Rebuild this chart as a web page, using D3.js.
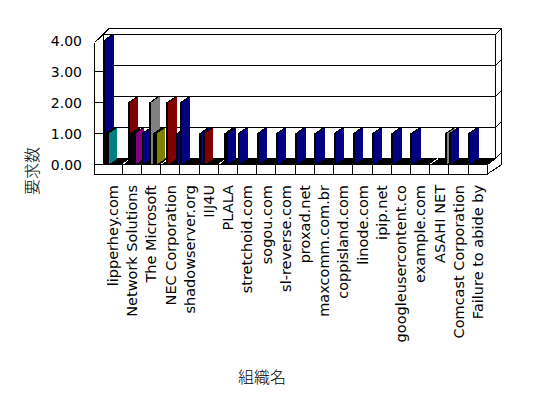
<!DOCTYPE html>
<html><head><meta charset="utf-8">
<script src="https://cdn.jsdelivr.net/npm/d3@7"></script>
<style>body{margin:0;background:#fff}svg{display:block}</style>
</head><body><svg id="c" width="548" height="398"></svg>
<script>
// ---- data ----
const categories = ["lipperhey.com","Network Solutions","The Microsoft","NEC Corporation","shadowserver.org","IIJ4U","PLALA","stretchoid.com","sogou.com","sl-reverse.com","proxad.net","maxcomm.com.br","coppisland.com","linode.com","ipip.net","googleusercontent.co","example.com","ASAHI NET","Comcast Corporation","Failure to abide by"];
const yTicks = [0,1,2,3,4];
const groups = ["S1","S2","S3","S4","S5","S6","S7","S8","S9"];
// values per category (20) for each group / colour combination
const s1Navy   = [4,0,1,0,2,1,0,1,1,1,1,1,1,1,1,1,1,0,1,1];
const s2Black  = [1,0,0,0,0,0,0,0,0,0,0,0,0,0,0,0,0,0,0,0];
const s3Teal   = [1,0,0,0,0,0,0,0,0,0,0,0,0,0,0,0,0,0,0,0];
const s3Maroon = [0,0,0,0,0,1,0,0,0,0,0,0,0,0,0,0,0,0,0,0];
const s4Maroon = [0,2,0,2,0,0,1,0,0,0,0,0,0,0,0,0,0,0,0,0];
const s5Black  = [0,1,0,0,0,0,0,0,0,0,0,0,0,0,0,0,0,0,0,0];
const s5Gray   = [0,0,2,0,0,0,0,0,0,0,0,0,0,0,0,0,0,0,0,0];
const s5Navy   = [0,0,0,0,0,0,1,0,0,0,0,0,0,0,0,0,0,0,0,0];
const s7Purple = [0,1,0,0,0,0,0,0,0,0,0,0,0,0,0,0,0,0,0,0];
const s7Black  = [0,0,1,0,0,0,0,0,0,0,0,0,0,0,0,0,0,0,0,0];
const s8Olive  = [0,0,1,0,0,0,0,0,0,0,0,0,0,0,0,0,0,0,0,0];
const s9Navy   = [0,0,0,1,0,0,0,0,0,0,0,0,0,0,0,0,0,0,0,0];
const s9Gray   = [0,0,0,0,0,0,0,0,0,0,0,0,0,0,0,0,0,1,0,0];

const seriesList = [
  {group:"S1", values:s1Navy,   color:"#000080"},
  {group:"S2", values:s2Black,  color:"#000000"},
  {group:"S3", values:s3Teal,   color:"#008080"},
  {group:"S3", values:s3Maroon, color:"#800000"},
  {group:"S4", values:s4Maroon, color:"#800000"},
  {group:"S5", values:s5Black,  color:"#000000"},
  {group:"S5", values:s5Gray,   color:"#808080"},
  {group:"S5", values:s5Navy,   color:"#000080"},
  {group:"S7", values:s7Purple, color:"#800080"},
  {group:"S7", values:s7Black,  color:"#000000"},
  {group:"S8", values:s8Olive,  color:"#808000"},
  {group:"S9", values:s9Navy,   color:"#000080"},
  {group:"S9", values:s9Gray,   color:"#808080"}
];

// ---- layout ----
const DX = 8.5, DY = -6, T = 6;
const x = d3.scaleBand().domain(categories).range([103.1, 487.3]).padding(0);
const y = d3.scaleLinear().domain([0,4]).range([164.5, 40.5]);
const xs = d3.scaleBand().domain(groups).range([0, x.bandwidth()*0.9]);
const xL = 94.7, xR = x.range()[1], bL = xL + DX, bR = xR + DX;
const y0 = y(0), slabB = 174;
const latin = "DejaVu Sans", cjk = "Noto Sans CJK JP";

const svg = d3.select("#c").attr("shape-rendering","crispEdges");
const g = svg.append("g");
function line(x1,y1,x2,y2,c){g.append("line").attr("x1",x1).attr("y1",y1).attr("x2",x2).attr("y2",y2).attr("stroke",c||"#000").attr("stroke-width",1);}
const pts = a => a.map(p=>p.join(",")).join(" ");

// back wall
g.append("rect").attr("x",bL).attr("y",y(4)+DY).attr("width",bR-bL).attr("height",y(0)-y(4)).attr("fill","#fff").attr("stroke","#000");
yTicks.forEach(v=>line(bL, y(v)+DY, bR, y(v)+DY));
yTicks.forEach(v=>line(bR, y(v)+DY, bR+T, y(v)+DY-T));
line(bL+T, y(4)+DY-T, bR+T, y(4)+DY-T);
line(bR+T, y(4)+DY-T, bR+T, y0+DY+T);
line(bR+T, y0+DY+T, xR, slabB);

// left wall
line(xL, y(4)+2, xL, slabB);
line(bL, y(4)+DY, bL, y0);
line(xL, y(4)+2, bL+T, y(4)+DY-T);
yTicks.filter(v=>v>0&&v<4).forEach(v=>line(xL, y(v), bL, y(v)));

// floor
g.append("polygon").attr("points",pts([[x.range()[0],y0],[xR,y0],[bR,y0+DY],[x.range()[0],y0+DY]])).attr("fill","#000");
categories.slice(1).forEach(c=>line(x(c), y0, x(c)+DX, y0+DY, "#fff"));

// floor front slab
g.append("rect").attr("x",xL).attr("y",y0).attr("width",xR-xL).attr("height",slabB-y0).attr("fill","#fff").attr("stroke","#000");
categories.slice(1).forEach(c=>line(x(c), y0, x(c), slabB));
line(xR, y0, bR, y0+DY);

// bars
const bars = [];
seriesList.forEach(s=>s.values.forEach((v,i)=>{ if(v>0) bars.push({ci:i, cat:categories[i], group:s.group, v, color:s.color}); }));
bars.sort((a,b)=> a.ci-b.ci || groups.indexOf(a.group)-groups.indexOf(b.group));
const bg = svg.append("g");
bars.forEach(b=>{
  const x0 = x(b.cat)+xs(b.group), x1 = x0+xs.bandwidth(), yt = y(b.v);
  bg.append("polygon").attr("points",pts([[x0,yt],[x1,yt],[x1+DX,yt+DY],[x0+DX,yt+DY]])).attr("fill","#000");
  bg.append("polygon").attr("points",pts([[x1,yt],[x1+DX,yt+DY],[x1+DX,y0+DY],[x1,y0]])).attr("fill",b.color);
  bg.append("rect").attr("x",x0).attr("y",yt).attr("width",x1-x0).attr("height",y0-yt).attr("fill","#000");
});

// y tick labels
const fmt = d3.format(".2f");
svg.append("g").selectAll("text").data(yTicks).join("text")
  .attr("x",82).attr("y",d=>y(d)).attr("dy","0.36em").attr("text-anchor","end")
  .attr("font-family",latin).attr("font-size",14).attr("fill","#000").text(fmt);

// category labels
svg.append("g").selectAll("text").data(categories).join("text")
  .attr("transform",d=>`translate(${x(d)+x.bandwidth()/2},185) rotate(-90)`)
  .attr("dy","0.36em").attr("text-anchor","end")
  .attr("font-family",latin).attr("font-size",14.5).attr("fill","#000").text(d=>d);

// axis titles
svg.append("text").attr("transform","translate(32,171) rotate(-90)").attr("dy","0.36em").attr("text-anchor","middle")
  .attr("font-family",cjk).attr("font-weight",300).attr("font-size",16).attr("fill","#000").text("要求数");
svg.append("text").attr("x",262).attr("y",377).attr("dy","0.36em").attr("text-anchor","middle")
  .attr("font-family",cjk).attr("font-weight",300).attr("font-size",16).attr("fill","#000").text("組織名");
</script></body></html>
